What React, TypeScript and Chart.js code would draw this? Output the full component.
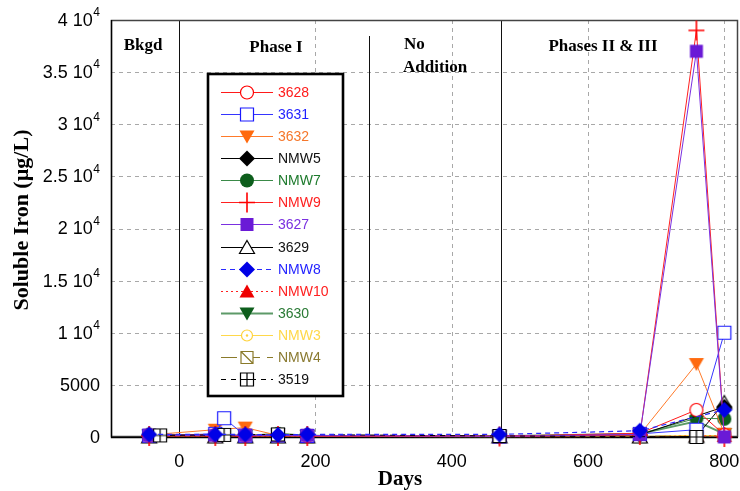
import React, { useEffect, useRef } from "react";
import { Chart, registerables } from "chart.js";

Chart.register(...registerables);

// Sampling days (x) shared by the wells; null = not sampled on that day
const DAYS = [-44, -28, 53, 66, 97, 145, 188, 470, 676, 759, 800];

// Soluble iron, µg/L
const V3628 = [150, null, 200, null, 150, 200, 120, 80, 350, 2600, 200];
const V3631 = [120, null, 300, 1800, 120, 150, 100, 60, 300, 700, 10000];
const V3632 = [200, null, 700, null, 900, 150, 100, 60, 250, 7000, 300];
const VNMW5 = [180, null, 150, null, 150, 120, 150, 60, 200, null, 2900];
const VNMW7 = [220, null, 200, null, 150, 300, 160, 80, 300, 1800, 1750];
const VNMW9 = [100, null, 100, null, 100, 100, 100, 50, 200, 39000, 0];
const V3627 = [150, null, 150, null, 150, 150, 150, 60, 250, 37000, 0];
const V3629 = [0, null, 0, null, 0, 0, 0, 0, 0, 50, 3300];
const VNMW8 = [250, null, 250, null, 250, 200, 250, 250, 600, null, 2600];
const VNMW10 = [50, null, 50, null, 50, 50, 50, 20, 30, 100, 100];
const V3630 = [150, null, 150, null, 100, 300, 120, 70, 300, 1500, 300];
const VNMW3 = [80, null, 60, null, 50, 60, 50, 30, 50, 150, 100];
const VNMW4 = [100, null, 80, null, 60, 80, 60, 40, 60, 150, 120];
const V3519 = [null, 150, null, 200, null, 250, null, 100, null, 0, null];

const SERIES_NAMES = ["3628", "3631", "3632", "NMW5", "NMW7", "NMW9", "3627", "3629", "NMW8", "NMW10", "3630", "NMW3", "NMW4", "3519"];
const SERIES_VALUES = [V3628, V3631, V3632, VNMW5, VNMW7, VNMW9, V3627, V3629, VNMW8, VNMW10, V3630, VNMW3, VNMW4, V3519];

const X_TICKS = [0, 200, 400, 600, 800];
const Y_TICKS = [0, 5000, 10000, 15000, 20000, 25000, 30000, 35000, 40000];
const PHASE_BREAKS = [0, 278, 472];
const PHASE_LABELS = ["Bkgd", "Phase I", "No", "Addition", "Phases II & III"];

type Mk =
  | "circleOpen" | "squareOpen" | "triDown" | "diamond" | "circle" | "plus"
  | "square" | "triOpen" | "tri" | "circleDot" | "squareSlash" | "squareCross";

interface Style {
  marker: Mk;
  stroke: string;
  fill: string;
  line: string;
  text: string;
  width: number;
  dash: number[];
  order: number;
}

const STYLES: Style[] = [
  { marker: "circleOpen", stroke: "#ff0000", fill: "#fff", line: "#ff1a1a", text: "#ff1a1a", width: 1, dash: [], order: 5 },
  { marker: "squareOpen", stroke: "#1a1aff", fill: "#fff", line: "#3535ff", text: "#1f1fff", width: 1, dash: [], order: 6 },
  { marker: "triDown", stroke: "#ff6a0e", fill: "#ff6a0e", line: "#ff7a2a", text: "#f5772b", width: 1, dash: [], order: 7 },
  { marker: "diamond", stroke: "#000", fill: "#000", line: "#000", text: "#111", width: 1, dash: [], order: 8 },
  { marker: "circle", stroke: "#0d5e1c", fill: "#0d5e1c", line: "#3a8a48", text: "#1d7a2c", width: 1, dash: [], order: 9 },
  { marker: "plus", stroke: "#ff0000", fill: "#ff0000", line: "#ff2020", text: "#ff2020", width: 1, dash: [], order: 4 },
  { marker: "square", stroke: "#6a1ad6", fill: "#6a1ad6", line: "#7a30e0", text: "#7a30e0", width: 1, dash: [], order: 3 },
  { marker: "triOpen", stroke: "#000", fill: "#fff", line: "#000", text: "#111", width: 1, dash: [], order: 10 },
  { marker: "diamond", stroke: "#0000e6", fill: "#0000e6", line: "#2a2aff", text: "#1f1fff", width: 1.2, dash: [5, 4], order: 0 },
  { marker: "tri", stroke: "#ee0000", fill: "#ee0000", line: "#ff2020", text: "#ff2020", width: 1, dash: [2, 3], order: 11 },
  { marker: "triDown", stroke: "#0d5e1c", fill: "#0d5e1c", line: "#5d9a68", text: "#2a7a35", width: 2, dash: [], order: 12 },
  { marker: "circleDot", stroke: "#ffd23a", fill: "#fff", line: "#ffd84a", text: "#ffd84a", width: 1, dash: [], order: 13 },
  { marker: "squareSlash", stroke: "#8a7a2a", fill: "#fff", line: "#8a7a2a", text: "#8a7a30", width: 1, dash: [16, 7], order: 14 },
  { marker: "squareCross", stroke: "#000", fill: "#fff", line: "#000", text: "#111", width: 1, dash: [5, 5], order: 1 },
];

const SANS = "'Liberation Sans', Arial, sans-serif";
const SERIF = "'Liberation Serif', 'Times New Roman', serif";

function drawMarker(ctx: CanvasRenderingContext2D, kind: Mk, x: number, y: number, s: Style) {
  ctx.save();
  ctx.setLineDash([]);
  ctx.lineWidth = 1.2;
  ctx.strokeStyle = s.stroke;
  ctx.fillStyle = s.fill;
  ctx.beginPath();
  switch (kind) {
    case "circleOpen":
      ctx.arc(x, y, 6.5, 0, Math.PI * 2);
      ctx.fill();
      ctx.stroke();
      break;
    case "circle":
      ctx.arc(x, y, 7, 0, Math.PI * 2);
      ctx.fill();
      break;
    case "squareOpen":
      ctx.rect(x - 6.5, y - 6.5, 13, 13);
      ctx.fill();
      ctx.stroke();
      break;
    case "square":
      ctx.rect(x - 6.5, y - 6.5, 13, 13);
      ctx.fill();
      break;
    case "triDown":
      ctx.moveTo(x - 7.5, y - 6);
      ctx.lineTo(x + 7.5, y - 6);
      ctx.lineTo(x, y + 7);
      ctx.closePath();
      ctx.fill();
      break;
    case "tri":
      ctx.moveTo(x, y - 7);
      ctx.lineTo(x + 7.5, y + 6);
      ctx.lineTo(x - 7.5, y + 6);
      ctx.closePath();
      ctx.fill();
      break;
    case "triOpen":
      ctx.moveTo(x, y - 7);
      ctx.lineTo(x + 7.5, y + 6);
      ctx.lineTo(x - 7.5, y + 6);
      ctx.closePath();
      ctx.fill();
      ctx.stroke();
      break;
    case "diamond":
      ctx.moveTo(x, y - 8);
      ctx.lineTo(x + 8, y);
      ctx.lineTo(x, y + 8);
      ctx.lineTo(x - 8, y);
      ctx.closePath();
      ctx.fill();
      break;
    case "plus":
      ctx.lineWidth = 1.6;
      ctx.moveTo(x - 8, y);
      ctx.lineTo(x + 8, y);
      ctx.moveTo(x, y - 10);
      ctx.lineTo(x, y + 10);
      ctx.stroke();
      break;
    case "circleDot":
      ctx.arc(x, y, 5.5, 0, Math.PI * 2);
      ctx.fill();
      ctx.stroke();
      ctx.beginPath();
      ctx.fillStyle = s.stroke;
      ctx.arc(x, y, 1.2, 0, Math.PI * 2);
      ctx.fill();
      break;
    case "squareSlash":
      ctx.rect(x - 6, y - 6, 12, 12);
      ctx.fill();
      ctx.moveTo(x - 6, y - 6);
      ctx.lineTo(x + 6, y + 6);
      ctx.stroke();
      break;
    case "squareCross":
      ctx.rect(x - 6.5, y - 6.5, 13, 13);
      ctx.fill();
      ctx.moveTo(x, y - 6.5);
      ctx.lineTo(x, y + 6.5);
      ctx.moveTo(x - 6.5, y);
      ctx.lineTo(x + 6.5, y);
      ctx.stroke();
      break;
  }
  ctx.restore();
}

function markerImage(s: Style): HTMLCanvasElement {
  const c = document.createElement("canvas");
  c.width = 28;
  c.height = 28;
  const g = c.getContext("2d")!;
  drawMarker(g, s.marker, 14, 14, s);
  return c;
}

// "3.5 10^4" style labels: mantissa + base, exponent raised
function yLabelParts(v: number): [string, string] {
  if (v < 10000) return [String(v), ""];
  return [`${v / 10000} 10`, "4"];
}

const decor = {
  id: "decor",
  beforeDatasetsDraw(chart: any) {
    const { ctx, chartArea: a, scales } = chart;
    const x = scales.x;
    const y = scales.y;
    ctx.save();
    // dashed grid
    ctx.strokeStyle = "#a8a8a8";
    ctx.lineWidth = 1;
    ctx.setLineDash([4, 4]);
    for (const v of Y_TICKS) {
      if (v <= 0 || v >= 40000) continue;
      const py = Math.round(y.getPixelForValue(v)) + 0.5;
      ctx.beginPath();
      ctx.moveTo(a.left, py);
      ctx.lineTo(a.right, py);
      ctx.stroke();
    }
    for (const v of X_TICKS) {
      if (v === 0) continue;
      const px = Math.round(x.getPixelForValue(v)) + 0.5;
      ctx.beginPath();
      ctx.moveTo(px, a.top);
      ctx.lineTo(px, a.bottom);
      ctx.stroke();
    }
    ctx.setLineDash([]);
    // phase dividers
    ctx.strokeStyle = "#111";
    PHASE_BREAKS.forEach((d, i) => {
      const px = Math.round(x.getPixelForValue(d)) + 0.5;
      ctx.beginPath();
      ctx.moveTo(px, a.top + (i === 1 ? 16 : 0));
      ctx.lineTo(px, a.bottom);
      ctx.stroke();
    });
    // plot frame
    ctx.strokeStyle = "#444";
    ctx.lineWidth = 1.5;
    ctx.strokeRect(a.left + 0.5, a.top + 0.5, a.right - a.left - 1, a.bottom - a.top - 1);
    ctx.strokeStyle = "#000";
    ctx.lineWidth = 1.3;
    ctx.beginPath();
    ctx.moveTo(a.left + 0.5, a.top);
    ctx.lineTo(a.left + 0.5, a.bottom + 0.5);
    ctx.lineTo(a.right, a.bottom + 0.5);
    ctx.stroke();
    // y tick labels
    ctx.fillStyle = "#000";
    ctx.textBaseline = "middle";
    for (const v of Y_TICKS) {
      const py = y.getPixelForValue(v);
      const [main, exp] = yLabelParts(v);
      ctx.textAlign = "right";
      let right = a.left - 11;
      if (exp) {
        ctx.font = `12px ${SANS}`;
        ctx.fillText(exp, right, py - 7);
        right -= ctx.measureText(exp).width + 0.5;
      }
      ctx.font = `18px ${SANS}`;
      ctx.fillText(main, right, py + 1);
    }
    // x tick labels
    ctx.textAlign = "center";
    ctx.font = `18px ${SANS}`;
    for (const v of X_TICKS) {
      ctx.fillText(String(v), x.getPixelForValue(v), a.bottom + 25);
    }
    // phase names
    ctx.font = `bold 17px ${SERIF}`;
    ctx.textAlign = "center";
    ctx.fillText(PHASE_LABELS[0], a.left + 32, a.top + 26);
    ctx.fillText(PHASE_LABELS[1], a.left + 165, a.top + 28);
    ctx.textAlign = "left";
    ctx.fillText(PHASE_LABELS[2], a.left + 293, a.top + 25);
    ctx.fillText(PHASE_LABELS[3], a.left + 292, a.top + 48);
    ctx.textAlign = "center";
    ctx.fillText(PHASE_LABELS[4], a.left + 492, a.top + 27);
    ctx.restore();
  },
  afterDatasetsDraw(chart: any) {
    const { ctx, chartArea: a } = chart;
    ctx.save();
    const bx = a.left + 97;
    const by = a.top + 54;
    const bw = 135;
    const bh = 322;
    ctx.fillStyle = "#fff";
    ctx.fillRect(bx, by, bw, bh);
    ctx.strokeStyle = "#000";
    ctx.lineWidth = 2.6;
    ctx.strokeRect(bx, by, bw, bh);
    ctx.font = `14px ${SANS}`;
    ctx.textBaseline = "middle";
    ctx.textAlign = "left";
    SERIES_NAMES.forEach((name, i) => {
      const s = STYLES[i];
      const cy = Math.round(by + 17.5 + i * 22.15) + 0.5;
      ctx.strokeStyle = s.line;
      ctx.lineWidth = s.width;
      ctx.setLineDash(s.dash);
      ctx.beginPath();
      ctx.moveTo(bx + 13, cy);
      ctx.lineTo(bx + 65, cy);
      ctx.stroke();
      ctx.setLineDash([]);
      drawMarker(ctx, s.marker, bx + 39, cy, s);
      ctx.fillStyle = s.text;
      ctx.fillText(name, bx + 70, cy + 1);
    });
    ctx.restore();
  },
  afterDraw(chart: any) {
    const { ctx } = chart;
    ctx.save();
    ctx.fillStyle = "#000";
    ctx.font = `bold 21px ${SERIF}`;
    ctx.textAlign = "center";
    ctx.textBaseline = "middle";
    ctx.fillText("Days", 400, 480);
    ctx.font = `bold 22px ${SERIF}`;
    ctx.translate(22, 220);
    ctx.rotate(-Math.PI / 2);
    ctx.fillText("Soluble Iron (\u00b5g/L)", 0, 0);
    ctx.restore();
  },
};

export default function App() {
  const ref = useRef<HTMLCanvasElement>(null);
  useEffect(() => {
    document.body.style.margin = "0";
    const datasets = SERIES_NAMES.map((name, i) => {
      const s = STYLES[i];
      const vals = SERIES_VALUES[i];
      const data: { x: number; y: number }[] = [];
      DAYS.forEach((d, k) => {
        const v = vals[k];
        if (v !== null && v !== undefined) data.push({ x: d, y: v as number });
      });
      return {
        label: name,
        data,
        borderColor: s.line,
        backgroundColor: s.fill,
        borderWidth: s.width,
        borderDash: s.dash,
        pointStyle: markerImage(s),
        pointRadius: 7,
        pointHoverRadius: 7,
        showLine: true,
        fill: false,
        tension: 0,
        clip: false,
        order: s.order,
      };
    });
    const chart = new Chart(ref.current!, {
      type: "line",
      data: { datasets } as any,
      plugins: [decor],
      options: {
        animation: false,
        responsive: false,
        devicePixelRatio: 1,
        events: [],
        layout: { autoPadding: false, padding: { top: 20, right: 2, left: 0, bottom: 0 } },
        plugins: { legend: { display: false }, tooltip: { enabled: false } },
        scales: {
          x: {
            type: "linear",
            min: -100,
            max: 820,
            grid: { display: false, drawTicks: false },
            border: { display: false },
            afterBuildTicks: (s: any) => {
              s.ticks = X_TICKS.map((v) => ({ value: v }));
            },
            afterFit: (s: any) => {
              s.height = 54;
              s.paddingLeft = 0;
              s.paddingRight = 0;
            },
            ticks: { display: false, autoSkip: false },
          },
          y: {
            type: "linear",
            min: 0,
            max: 40000,
            grid: { display: false, drawTicks: false },
            border: { display: false },
            afterBuildTicks: (s: any) => {
              s.ticks = Y_TICKS.map((v) => ({ value: v }));
            },
            afterFit: (s: any) => {
              s.width = 111;
              s.paddingTop = 0;
              s.paddingBottom = 0;
            },
            ticks: { display: false, autoSkip: false },
          },
        },
      } as any,
    });
    return () => chart.destroy();
  }, []);
  return (
    <div style={{ position: "absolute", left: 0, top: 0, width: 740, height: 491, background: "#fff" }}>
      <canvas ref={ref} width={740} height={491} style={{ display: "block", width: 740, height: 491 }} />
    </div>
  );
}
